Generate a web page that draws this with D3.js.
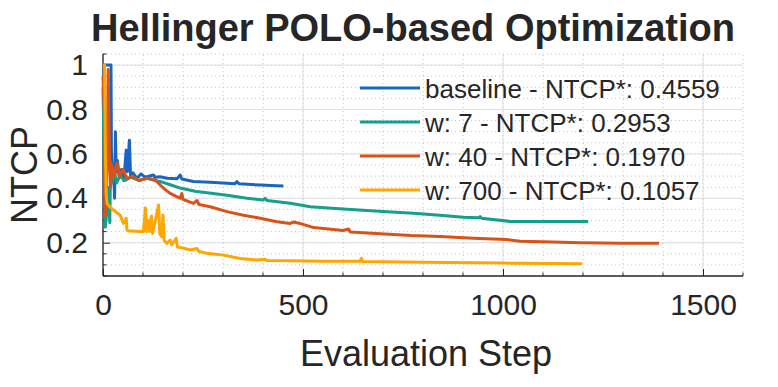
<!DOCTYPE html>
<html>
<head>
<meta charset="utf-8">
<script src="https://cdn.jsdelivr.net/npm/d3@7"></script>
<style>
body { margin: 0; background: #fff; }
text { font-family: "Liberation Sans", Arial, Helvetica, sans-serif; fill: #262626; }
</style>
</head>
<body>
<script>
// [evaluation step, NTCP]
let baselineData = [[0,1.0],[20,1.0],[21,0.62],[23,0.52],[26,0.55],[29,0.40],[31,0.70],[33,0.52],[36,0.57],[40,0.50],[46,0.53],[52,0.48],[58,0.617],[61,0.52],[66,0.662],[69,0.50],[75,0.515],[85,0.49],[95,0.51],[105,0.495],[115,0.50],[126,0.505],[130,0.495],[143,0.497],[160,0.49],[185,0.488],[193,0.505],[197,0.487],[226,0.476],[268,0.472],[310,0.468],[330,0.466],[335,0.475],[340,0.465],[393,0.46],[420,0.458],[451,0.4559]]

let w7Data = [[0,0.9],[3,0.6],[6,0.27],[9,0.33],[12,0.45],[15,0.36],[17,0.29],[19,0.56],[23,0.47],[28,0.52],[34,0.47],[42,0.50],[55,0.48],[70,0.495],[90,0.48],[110,0.49],[130,0.48],[150,0.472],[170,0.46],[193,0.446],[230,0.432],[260,0.425],[310,0.414],[360,0.40],[400,0.392],[405,0.40],[410,0.39],[468,0.378],[518,0.362],[600,0.352],[700,0.34],[776,0.333],[850,0.322],[900,0.315],[940,0.312],[943,0.318],[946,0.31],[1018,0.296],[1100,0.296],[1150,0.296],[1213,0.2953]]

let w40Data = [[0,0.95],[4,0.75],[7,0.32],[10,0.55],[13,0.98],[16,0.60],[19,0.45],[22,0.55],[28,0.50],[35,0.56],[42,0.50],[50,0.53],[60,0.49],[75,0.50],[90,0.48],[110,0.49],[130,0.485],[143,0.46],[155,0.44],[168,0.422],[193,0.40],[197,0.422],[200,0.395],[226,0.377],[235,0.39],[240,0.372],[268,0.362],[310,0.34],[351,0.324],[393,0.31],[435,0.294],[468,0.287],[476,0.293],[490,0.288],[527,0.268],[600,0.255],[614,0.262],[618,0.248],[693,0.24],[770,0.232],[843,0.228],[926,0.22],[1010,0.214],[1043,0.207],[1100,0.204],[1193,0.200],[1300,0.198],[1390,0.197]]

let w700Data = [[0,1.0],[4,1.0],[6,0.60],[8,0.42],[10,0.377],[18,0.36],[26,0.347],[35,0.335],[43,0.324],[51,0.287],[56,0.30],[58,0.31],[60,0.257],[62,0.254],[93,0.25],[101,0.25],[106,0.356],[109,0.25],[113,0.30],[116,0.25],[121,0.32],[124,0.242],[139,0.37],[142,0.24],[147,0.227],[150,0.325],[153,0.21],[160,0.197],[168,0.212],[172,0.19],[183,0.22],[186,0.18],[200,0.176],[218,0.167],[235,0.174],[240,0.16],[260,0.152],[301,0.144],[343,0.129],[385,0.122],[405,0.125],[410,0.12],[468,0.119],[550,0.117],[643,0.117],[646,0.13],[650,0.115],[800,0.112],[1000,0.108],[1043,0.107],[1198,0.1057]]

let seriesNames = ["baseline - NTCP*: 0.4559", "w: 7 - NTCP*: 0.2953", "w: 40 - NTCP*: 0.1970", "w: 700 - NTCP*: 0.1057"]
let seriesColors = ["#1866c2", "#14a08a", "#d95319", "#ffa600"]
let allSeries = [baselineData, w7Data, w40Data, w700Data]

let xTicks = [0, 500, 1000, 1500]
let yTicks = [0.2, 0.4, 0.6, 0.8, 1]

let W = 778, H = 387
let m = { top: 54, right: 35, bottom: 111, left: 103 }

let svg = d3.select("body").append("svg")
    .attr("width", W)
    .attr("height", H)

let x = d3.scaleLinear().domain([0, 1600]).range([m.left, W - m.right])
let y = d3.scaleLinear().domain([0.05, 1.05]).range([H - m.bottom, m.top])

// minor grid (dotted)
let g = svg.append("g")
g.selectAll(".mx").data(d3.range(0, 1601, 100)).enter().append("line")
    .attr("x1", d => x(d)).attr("x2", d => x(d))
    .attr("y1", y(0.05)).attr("y2", y(1.05))
    .attr("stroke", "#c4c4c4").attr("stroke-width", 1).attr("stroke-dasharray", "1,3")
g.selectAll(".my").data(d3.range(1, 22).map(i => i * 0.05)).enter().append("line")
    .attr("x1", x(0)).attr("x2", x(1600))
    .attr("y1", d => y(d)).attr("y2", d => y(d))
    .attr("stroke", "#c4c4c4").attr("stroke-width", 1).attr("stroke-dasharray", "1,3")

// major grid
g.selectAll(".gx").data(xTicks).enter().append("line")
    .attr("x1", d => x(d)).attr("x2", d => x(d))
    .attr("y1", y(0.05)).attr("y2", y(1.05))
    .attr("stroke", "#dfdfdf").attr("stroke-width", 1)
g.selectAll(".gy").data(yTicks).enter().append("line")
    .attr("x1", x(0)).attr("x2", x(1600))
    .attr("y1", d => y(d)).attr("y2", d => y(d))
    .attr("stroke", "#dfdfdf").attr("stroke-width", 1)

// axes (ticks point inward)
let xAxis = svg.append("g")
    .attr("transform", "translate(0," + y(0.05) + ")")
    .call(d3.axisBottom(x).tickValues(xTicks).tickSize(-7).tickPadding(18).tickFormat(d3.format("d")))
let yAxis = svg.append("g")
    .attr("transform", "translate(" + x(0) + ",0)")
    .call(d3.axisLeft(y).tickValues(yTicks).tickSize(-7).tickPadding(15).tickFormat(d => d === 1 ? "1" : d3.format(".1f")(d)))

// minor ticks
xAxis.selectAll(".minor").data(d3.range(100, 1601, 100).filter(d => d % 500)).enter().append("line")
    .attr("x1", d => x(d)).attr("x2", d => x(d)).attr("y1", 0).attr("y2", -3.5)
    .attr("stroke", "#262626")
yAxis.selectAll(".minor").data(d3.range(1, 22).map(i => i * 0.05).filter((d, i) => (i + 1) % 4)).enter().append("line")
    .attr("y1", d => y(d)).attr("y2", d => y(d)).attr("x1", 0).attr("x2", 3.5)
    .attr("stroke", "#262626")

for (let ax of [xAxis, yAxis]) {
    ax.select(".domain").attr("stroke", "#262626").attr("stroke-width", 1.3)
    ax.selectAll(".tick line").attr("stroke", "#262626")
    ax.selectAll("text").attr("font-size", 30).attr("font-family", null).attr("fill", "#262626")
}
xAxis.select(".domain").attr("d", "M" + x(0) + ",0H" + x(1600))
yAxis.select(".domain").attr("d", "M0," + y(0.05) + "V" + y(1.05))

// lines
let line = d3.line().x(d => x(d[0])).y(d => y(d[1]))
svg.append("g").selectAll("path").data(allSeries).enter().append("path")
    .attr("d", line)
    .attr("fill", "none")
    .attr("stroke", (d, i) => seriesColors[i])
    .attr("stroke-width", 3)
    .attr("stroke-linejoin", "round")

// legend
let leg = svg.append("g")
seriesNames.forEach((name, i) => {
    let ly = 88 + i * 34
    leg.append("line")
        .attr("x1", 360).attr("x2", 420).attr("y1", ly).attr("y2", ly)
        .attr("stroke", seriesColors[i]).attr("stroke-width", 3)
    leg.append("text")
        .attr("x", 425).attr("y", ly + 10)
        .attr("font-size", 26)
        .attr("fill", "#111")
        .text(name)
})

// labels
svg.append("text")
    .attr("x", 413).attr("y", 41)
    .attr("text-anchor", "middle")
    .attr("font-size", 38).attr("font-weight", "bold")
    .attr("fill", "#000")
    .text("Hellinger POLO-based Optimization")

svg.append("text")
    .attr("x", (x(0) + x(1600)) / 2 + 3).attr("y", 366)
    .attr("text-anchor", "middle")
    .attr("font-size", 36)
    .text("Evaluation Step")

svg.append("text")
    .attr("transform", "translate(37,175) rotate(-90)")
    .attr("text-anchor", "middle")
    .attr("font-size", 36)
    .text("NTCP")
</script>
</body>
</html>
